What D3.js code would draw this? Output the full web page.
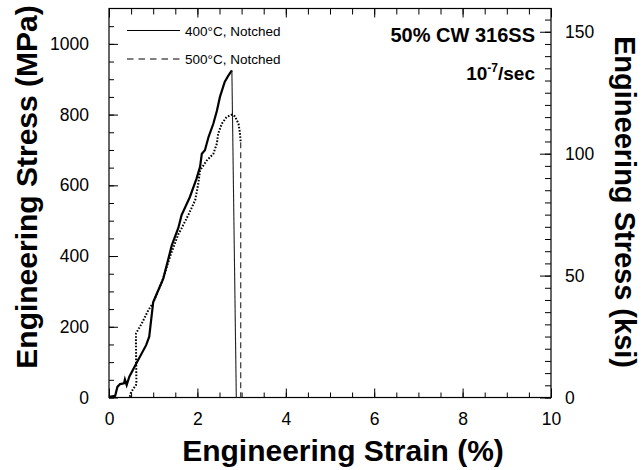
<!DOCTYPE html>
<meta charset="utf-8">
<script src="https://d3js.org/d3.v7.min.js"></script>
<style>
body { margin: 0; background: #fff; }
text { font-family: "Liberation Sans", Arial, sans-serif; fill: #000; }
.tick line { stroke: #000; }
.axis path { display: none; }
</style>
<div id="chart"></div>
<script>
// strain (%) and stress (MPa)
const strain400 = [0, 0.14, 0.19, 0.25, 0.34, 0.36, 0.40, 0.46, 0.62, 0.84, 0.91, 1.0, 1.23, 1.42, 1.57, 1.64, 1.83, 1.98, 2.06, 2.10, 2.17, 2.25, 2.36, 2.44, 2.51, 2.62, 2.70, 2.78, 2.88];
const stress400 = [2, 5, 30, 38, 40, 51, 35, 59, 97, 148, 172, 270, 337, 430, 480, 515, 567, 619, 652, 689, 699, 736, 774, 810, 850, 893, 910, 925, 0];

const strain500 = [0.47, 0.49, 0.55, 0.61, 0.62, 0.61, 0.61, 0.74, 0.89, 1.0, 1.2, 1.4, 1.57, 1.64, 1.79, 1.95, 2.02, 2.06, 2.21, 2.36, 2.44, 2.47, 2.55, 2.66, 2.78, 2.85, 2.93, 2.96, 2.98, 2.98];
const stress500 = [2, 12, 25, 35, 45, 148, 181, 209, 247, 268, 328, 405, 462, 478, 515, 558, 605, 642, 670, 689, 718, 746, 774, 793, 800, 795, 774, 750, 722, 0];

const legendLabels = ["400\u00B0C, Notched", "500\u00B0C, Notched"];
const xMajor = [0, 2, 4, 6, 8, 10];
const yMajor = [0, 200, 400, 600, 800, 1000];
const ksiMajor = [0, 50, 100, 150];
const MPA_PER_KSI = 6.894757;

const width = 642, height = 470;
const svg = d3.select("#chart").append("svg")
  .attr("width", width).attr("height", height);

const x = d3.scaleLinear().domain([0, 10]).range([109, 551]);
const y = d3.scaleLinear().domain([0, 1100]).range([397.5, 8.5]);
const yk = d3.scaleLinear().domain([0, 1100 / MPA_PER_KSI]).range([397.5, 8.5]);

// minor ticks
svg.append("g").attr("class", "axis").attr("transform", "translate(0,397.5)")
  .call(d3.axisBottom(x).tickValues(d3.range(0, 10.01, 0.5)).tickSize(-5).tickFormat(""));
svg.append("g").attr("class", "axis").attr("transform", "translate(0,8.5)")
  .call(d3.axisTop(x).tickValues(d3.range(0, 10.01, 0.5)).tickSize(-6).tickFormat(""));
svg.append("g").attr("class", "axis").attr("transform", "translate(109,0)")
  .call(d3.axisLeft(y).tickValues(d3.range(0, 1100, 50)).tickSize(-5).tickFormat(""));
svg.append("g").attr("class", "axis").attr("transform", "translate(551,0)")
  .call(d3.axisRight(yk).tickValues(d3.range(0, 160, 5)).tickSize(-6).tickFormat(""));

// major ticks with labels
const fs = "17.5px";
svg.append("g").attr("class", "axis").attr("transform", "translate(0,397.5)")
  .call(d3.axisBottom(x).tickValues(xMajor).tickSize(-9).tickPadding(15).tickFormat(d3.format("d")))
  .selectAll("text").style("font-size", fs);
svg.append("g").attr("class", "axis").attr("transform", "translate(0,8.5)")
  .call(d3.axisTop(x).tickValues(xMajor).tickSize(-9).tickFormat(""));
svg.append("g").attr("class", "axis").attr("transform", "translate(109,0)")
  .call(d3.axisLeft(y).tickValues(yMajor).tickSize(-9).tickPadding(20).tickFormat(d3.format("d")))
  .selectAll("text").style("font-size", fs);
svg.append("g").attr("class", "axis").attr("transform", "translate(551,0)")
  .call(d3.axisRight(yk).tickValues(ksiMajor).tickSize(-11).tickPadding(14).tickFormat(d3.format("d")))
  .selectAll("text").style("font-size", fs);

// frame
svg.append("rect")
  .attr("x", x(0)).attr("y", y(1100))
  .attr("width", x(10) - x(0)).attr("height", y(0) - y(1100))
  .attr("fill", "none").attr("stroke", "#000").attr("stroke-width", 1.2);

// curves
const line = d3.line().x(d => x(d[0])).y(d => y(d[1]));
const pts400 = strain400.map((s, i) => [s, stress400[i]]);
const pts500 = strain500.map((s, i) => [s, stress500[i]]);

svg.append("path").attr("d", line(pts400.slice(0, -1)))
  .attr("fill", "none").attr("stroke", "#000").attr("stroke-width", 2.2);
svg.append("path").attr("d", line(pts400.slice(-2)))
  .attr("fill", "none").attr("stroke", "#222").attr("stroke-width", 1.1);

svg.append("path").attr("d", line(pts500.slice(0, -1)))
  .attr("fill", "none").attr("stroke", "#000").attr("stroke-width", 2)
  .attr("stroke-dasharray", "1.6,1.6");
svg.append("path").attr("d", line(pts500.slice(-2)))
  .attr("fill", "none").attr("stroke", "#333").attr("stroke-width", 1.2)
  .attr("stroke-dasharray", "6,4");

// legend
const leg = svg.append("g");
legendLabels.forEach((t, i) => {
  const ly = 30.5 + i * 28.5;
  leg.append("line").attr("x1", 127).attr("x2", 180).attr("y1", ly).attr("y2", ly)
    .attr("stroke", "#000").attr("stroke-width", 1.2)
    .attr("stroke-dasharray", i ? "6.5,5" : null);
  leg.append("text").attr("x", 185).attr("y", ly + 5).style("font-size", "13.5px").text(t);
});

// annotations
svg.append("text").attr("x", 535).attr("y", 42).attr("text-anchor", "end")
  .style("font-size", "20px").style("font-weight", "bold").text("50% CW 316SS");
const rate = svg.append("text").attr("x", 535).attr("y", 80).attr("text-anchor", "end")
  .style("font-size", "19px").style("font-weight", "bold");
rate.append("tspan").text("10");
rate.append("tspan").attr("dy", -8).style("font-size", "12px").text("-7");
rate.append("tspan").attr("dy", 8).text("/sec");

// axis titles
svg.append("text").attr("x", 343).attr("y", 461).attr("text-anchor", "middle")
  .style("font-size", "30px").style("font-weight", "bold").text("Engineering Strain (%)");
svg.append("text").attr("transform", "translate(37,187) rotate(-90)").attr("text-anchor", "middle")
  .style("font-size", "30px").style("font-weight", "bold").text("Engineering Stress (MPa)");
svg.append("text").attr("transform", "translate(615,202) rotate(90)").attr("text-anchor", "middle")
  .style("font-size", "29px").style("font-weight", "bold").text("Engineering Stress (ksi)");
</script>
